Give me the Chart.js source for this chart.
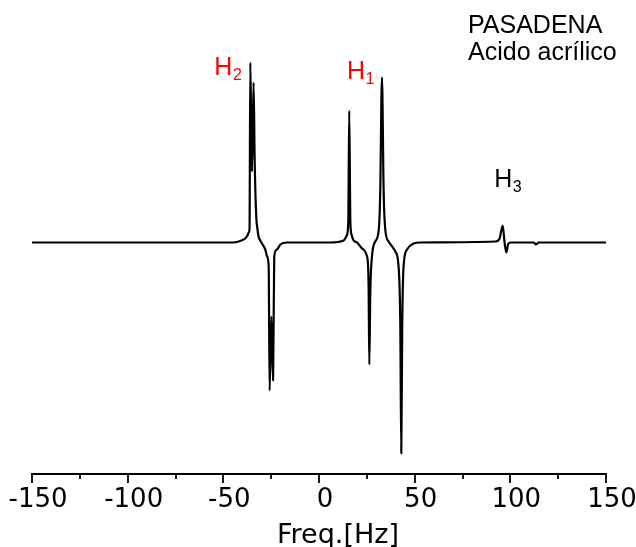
<!DOCTYPE html>
<html>
<head>
<meta charset="utf-8">
<script src="https://cdn.jsdelivr.net/npm/chart.js@4/dist/chart.umd.min.js"></script>
<style>
  html, body { margin: 0; padding: 0; background: #fff; }
  #grafico-espectro { display: block; }
</style>
</head>
<body>
<canvas id="grafico-espectro" width="636" height="547"></canvas>
<script>
const frequencias = [
  -150, -60, -44.6, -40.5, -38.6, -37.4, -36.7, -36.3, -35.9, -35.4, -35.0, -34.2, -33.6, -32.8, -32.2, -31.6,
  -30.7, -29.8, -28.1, -27.1, -26.3, -25.8, -24.9, -24.0, -23.4, -22.0, -20.2, -16.7,
  5.9, 12.9, 14.5, 15.3, 15.8, 16.4, 17.0, 18.1, 19.9, 22.5, 25.1, 25.9, 26.3, 26.8, 27.7,
  29.4, 31.2, 32.0, 32.9, 33.8, 34.7, 36.4, 38.2, 39.9, 41.6, 42.5, 43.0, 43.5, 44.2,
  46.0, 49.4, 52.9,
  92.2, 94.4, 96.0, 97.0, 97.9, 98.8, 100.0, 112.2, 113.4, 114.8, 150
];
const intensidades = [
  0, 0, 0, 2, 4, 7, 10, 14, 180, 110, 71, 160, 80, 26, 14, 6,
  2, -1, -7, -14, -24, -148, -74, -138, -14, -7, -2, 0,
  0, 2, 7, 20, 132, 20, 8, 2, 0, -6, -14, -40, -122, -50, -14,
  1, 12, 50, 165, 50, 12, 1, -4, -9, -24, -84, -211, -84, -24,
  -7, -1, 0,
  1, 4, 17, 0, -10, -2, 0, 0, -2, 0, 0
];

// Eixo X
const ticksPrincipais = [-150, -100, -50, 0, 50, 100, 150];
const ticksMenores = [-125, -75, -25, 25, 75, 125];
const tituloEixoX = 'Freq.[Hz]';

// Textos do gráfico
const textoCanto = ['PASADENA', 'Acido acrílico'];
const rotulosPicos = [
  { texto: 'H', indice: '2', freq: -54.7, int: 167.5, cor: '#ff0000' },
  { texto: 'H', indice: '1', freq: 14.6, int: 163.2, cor: '#ff0000' },
  { texto: 'H', indice: '3', freq: 91.6, int: 55.8, cor: '#000000' }
];

let pontos = [];
for (let i = 0; i < frequencias.length; i++) {
  pontos.push({ x: frequencias[i], y: intensidades[i] });
}

// Plugin para marcas menores, título do eixo e textos
const pluginTextos = {
  id: 'textos',
  afterDraw(chart) {
    const ctx = chart.ctx;
    const sx = chart.scales.x;
    const sy = chart.scales.y;
    const base = chart.chartArea.bottom;

    ctx.save();
    ctx.strokeStyle = '#000';
    ctx.lineWidth = 1.8;
    ctx.beginPath();
    ticksPrincipais.forEach(function (v) {
      const px = Math.round(sx.getPixelForValue(v));
      ctx.moveTo(px, base); ctx.lineTo(px, base + 9);
    });
    ticksMenores.forEach(function (v) {
      const px = Math.round(sx.getPixelForValue(v));
      ctx.moveTo(px, base); ctx.lineTo(px, base + 5);
    });
    ctx.stroke();

    ctx.textBaseline = 'alphabetic';
    ctx.fillStyle = '#000';

    // título do eixo X (um pouco deslocado para a direita, como no original)
    ctx.textAlign = 'center';
    ctx.font = '27px "DejaVu Sans", sans-serif';
    ctx.fillText(tituloEixoX, sx.getPixelForValue(0) + 19, 543);

    ctx.textAlign = 'left';
    ctx.font = '25px "Liberation Sans", Arial, sans-serif';
    ctx.fillText(textoCanto[0], 468, 33);
    ctx.fillText(textoCanto[1], 468, 60);

    rotulosPicos.forEach(function (r) {
      const px = sx.getPixelForValue(r.freq);
      const py = sy.getPixelForValue(r.int);
      ctx.fillStyle = r.cor;
      ctx.font = '25px "Liberation Sans", Arial, sans-serif';
      ctx.fillText(r.texto, px, py);
      const w = ctx.measureText(r.texto).width;
      ctx.font = '16px "Liberation Sans", Arial, sans-serif';
      ctx.fillText(r.indice, px + w + 0.5, py + 5);
    });
    ctx.restore();
  }
};

const config = {
  type: 'line',
  data: {
    datasets: [{
      data: pontos,
      borderColor: '#000',
      borderWidth: 2.2,
      borderJoinStyle: 'round',
      pointRadius: 0,
      cubicInterpolationMode: 'monotone',
      fill: false
    }]
  },
  options: {
    responsive: false,
    animation: false,
    layout: { padding: { left: 32, right: 30, top: 10, bottom: 0 } },
    plugins: { legend: { display: false }, tooltip: { enabled: false } },
    scales: {
      x: {
        type: 'linear',
        min: -150,
        max: 150,
        afterBuildTicks: function (axis) {
          axis.ticks = ticksPrincipais.map(function (v) { return { value: v }; });
        },
        afterFit: function (axis) {
          axis.paddingLeft = 0;
          axis.paddingRight = 0;
          axis.height = 73;
        },
        grid: { display: true, drawOnChartArea: false, drawTicks: false },
        border: { display: true, color: '#000', width: 2 },
        ticks: {
          color: '#000',
          padding: 13,
          labelOffset: 6,
          maxRotation: 0,
          autoSkip: false,
          font: { family: '"DejaVu Sans"', size: 26, lineHeight: 1 }
        },
        title: { display: false }
      },
      y: {
        type: 'linear',
        display: false,
        min: -231.5,
        max: 232.5
      }
    }
  },
  plugins: [pluginTextos]
};

new Chart(document.getElementById('grafico-espectro'), config);
</script>
</body>
</html>
